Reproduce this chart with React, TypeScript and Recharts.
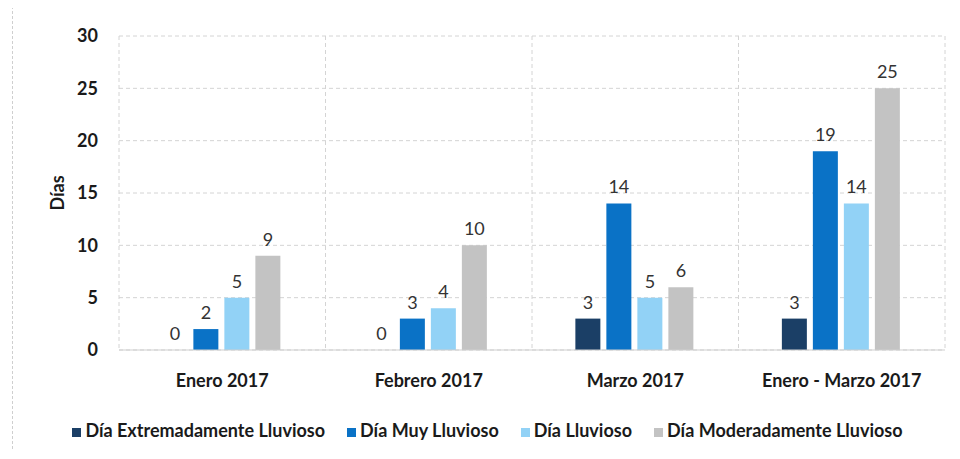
// Días lluviosos por mes, enero - marzo 2017
import React from "react";
import {
  BarChart,
  Bar,
  XAxis,
  YAxis,
  CartesianGrid,
  Legend,
  LabelList,
} from "recharts";

const categories = ["Enero 2017", "Febrero 2017", "Marzo 2017", "Enero - Marzo 2017"];
const extremadamente = [0, 0, 3, 3];
const muy = [2, 3, 14, 19];
const lluvioso = [5, 4, 5, 14];
const moderadamente = [9, 10, 6, 25];
const yTicks = [0, 5, 10, 15, 20, 25, 30];

const series = [
  { key: "extremadamente", name: "Día Extremadamente Lluvioso", color: "#1b3f66" },
  { key: "muy", name: "Día Muy Lluvioso", color: "#0a72c6" },
  { key: "lluvioso", name: "Día Lluvioso", color: "#92d2f6" },
  { key: "moderadamente", name: "Día Moderadamente Lluvioso", color: "#c3c3c3" },
];

const data = categories.map((cat, i) => ({
  cat,
  extremadamente: extremadamente[i],
  muy: muy[i],
  lluvioso: lluvioso[i],
  moderadamente: moderadamente[i],
}));

const FONT = "Lato, 'Open Sans', sans-serif";

export default function App() {
  return (
    <div style={{ margin: -8, width: 960, height: 459, position: "relative", background: "#fff" }}>
      <div
        style={{
          position: "absolute",
          left: 12,
          top: 6,
          width: 942,
          height: 448,
          border: "1px dashed #cfcfcf",
          boxSizing: "border-box",
        }}
      />
      <BarChart
        width={960}
        height={459}
        data={data}
        margin={{ top: 36, right: 15, left: 0, bottom: 18 }}
        barCategoryGap="21%"
        barGap={6}
        style={{ fontFamily: FONT }}
      >
        <CartesianGrid
          stroke="#d4d4d4"
          strokeDasharray="4 3"
          verticalCoordinatesGenerator={({ offset }: any) =>
            [0, 1, 2, 3, 4].map((i) => offset.left + (i * offset.width) / 4)
          }
        />
        <XAxis
          dataKey="cat"
          axisLine={{ stroke: "#cfcfcf" }}
          tickLine={false}
          tickMargin={18}
          height={55}
          tick={{ fill: "#1a1a1a", fontSize: 18, fontWeight: 700 }}
        />
        <YAxis
          domain={[0, 30]}
          ticks={yTicks}
          width={119}
          axisLine={false}
          tickLine={false}
          tickMargin={15}
          tick={{ fill: "#1a1a1a", fontSize: 18, fontWeight: 700 }}
          label={{
            value: "Días",
            angle: -90,
            position: "insideLeft",
            offset: 58,
            style: { fill: "#1a1a1a", fontSize: 18, fontWeight: 700, textAnchor: "middle" },
          }}
        />
        <Legend
          verticalAlign="bottom"
          iconType="square"
          iconSize={9}
          itemSorter={(item: any) => series.findIndex((s) => s.name === item.value)}
          wrapperStyle={{ paddingTop: 14, left: 26 }}
          formatter={(value: string) => (
            <span style={{ color: "#1a1a1a", fontSize: 18, fontWeight: 700, marginRight: 12 }}>{value}</span>
          )}
        />
        {series.map((s) => (
          <Bar
            key={s.key}
            dataKey={s.key}
            name={s.name}
            fill={s.color}
            minPointSize={(v: number) => (v === 0 ? 0.01 : 0)}
            isAnimationActive={false}
          >
            <LabelList
              dataKey={s.key}
              position="top"
              offset={10}
              style={{ fill: "#333", fontSize: 18, fontWeight: 400 }}
            />
          </Bar>
        ))}
      </BarChart>
    </div>
  );
}
